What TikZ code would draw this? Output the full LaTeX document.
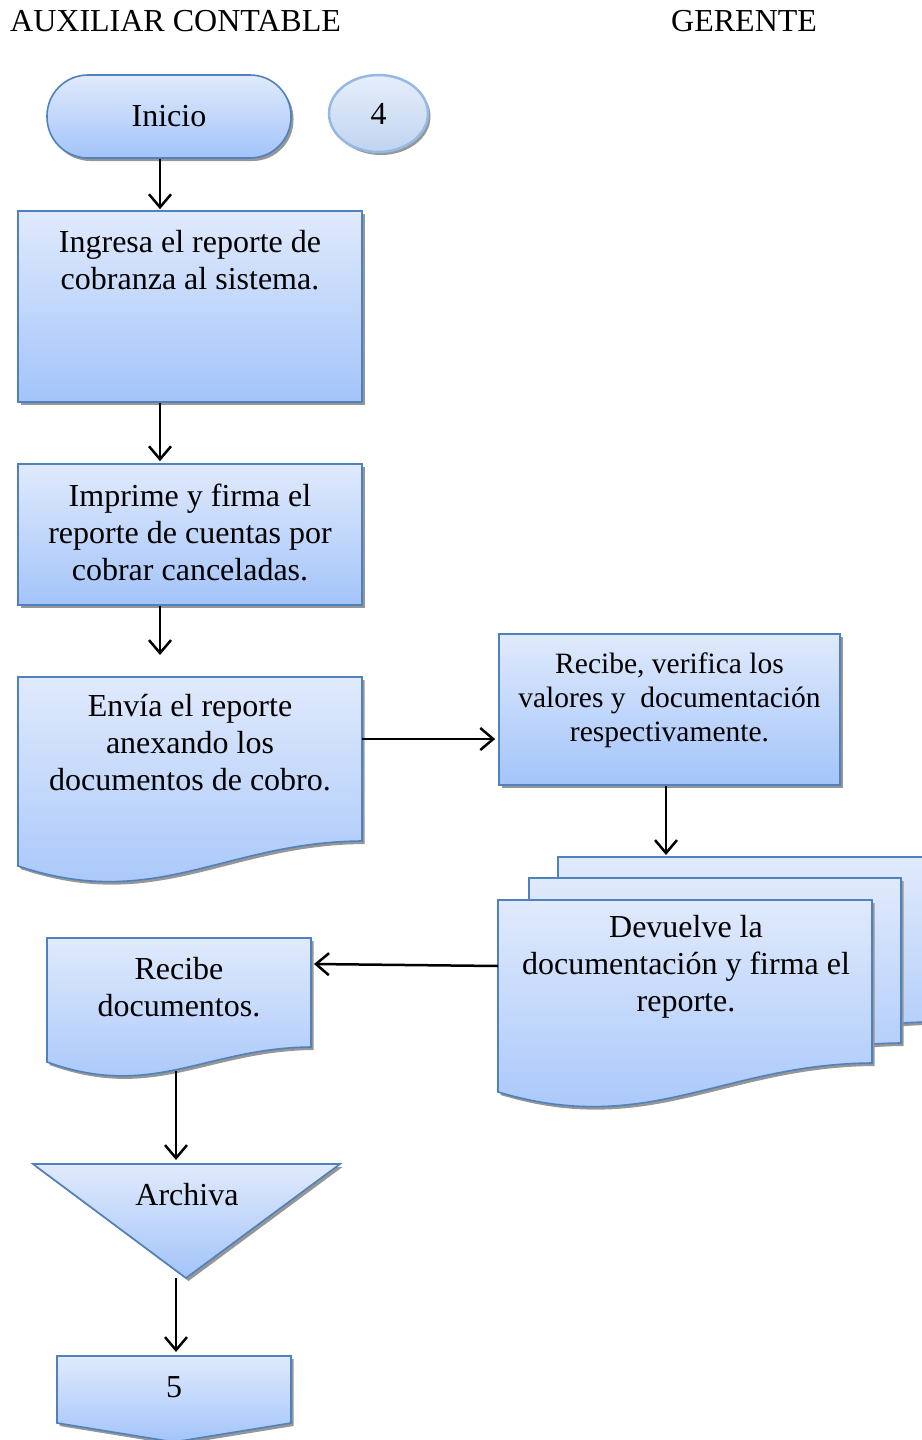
\documentclass[tikz,border=0pt]{standalone}
\usepackage{fontspec}
\setmainfont{Liberation Serif}
\usetikzlibrary{arrows.meta,shadows,shapes.geometric}
\definecolor{cTop}{RGB}{224,234,252}
\definecolor{cBot}{RGB}{163,196,250}
\definecolor{cBorder}{RGB}{79,129,189}
\definecolor{cShadow}{RGB}{150,150,150}
\definecolor{eTop}{RGB}{230,238,250}
\definecolor{eBot}{RGB}{192,212,240}
\definecolor{eBorder}{RGB}{150,185,228}
\tikzset{
  shad/.style={drop shadow={shadow xshift=2.5pt, shadow yshift=-3pt, fill=cShadow, opacity=1}},
  fillshade/.style={top color=cTop, bottom color=cBot, draw=cBorder, line width=1.6pt, line join=miter},
  procbox/.style={rectangle, fillshade, shad, inner sep=0},
  txt/.style={font=\fontsize{32}{37}\selectfont, align=center, inner sep=0},
  txts/.style={font=\fontsize{29.5}{34}\selectfont, align=center, inner sep=0},
  arr/.style={line width=2.5pt, -{Straight Barb[length=13pt,width=22pt]}},
}
\begin{document}
\begin{tikzpicture}[x=1pt,y=-1pt]
\useasboundingbox (0,0) rectangle (921,1440);

% headers
\node[txt, anchor=west] (h1) at (10,21) {AUXILIAR CONTABLE};
\node[txt, anchor=west] (h2) at (671,21) {GERENTE};

% Inicio terminal
\node[procbox, rounded corners=41pt, minimum width=244pt, minimum height=83pt, txt] (ini) at (169,116.5) {Inicio};

% connector 4
\node[ellipse, top color=eTop, bottom color=eBot, draw=eBorder, line width=2.5pt, shad,
      minimum width=99pt, minimum height=77pt, txt] (c4) at (378.5,113.5) {4};

% box 1
\node[procbox, minimum width=344pt, minimum height=191pt] (b1) at (190,306.5) {};
\node[txt] (b1t) at (190,260) {Ingresa el reporte de\\cobranza al sistema.};

% box 2
\node[procbox, minimum width=344pt, minimum height=141pt] (b2) at (190,534.5) {};
\node[txt] (b2t) at (190,532) {Imprime y firma el\\reporte de cuentas por\\cobrar canceladas.};

% document 3
\path[fillshade, shad] (18,677) -- (362,677) -- (362,841)
  .. controls (224,842) and (155.6,912) .. (18,866) -- cycle;
\node[txt] (d3t) at (190,743) {Envía el reporte\\anexando los\\documentos de cobro.};
\coordinate (d3top) at (160,677);
\coordinate (d3e) at (362,739);

% box 4 (gerente)
\node[procbox, minimum width=341pt, minimum height=151pt] (b4) at (669.5,709.5) {};
\node[txts] (b4t) at (669.5,700) {Recibe, verifica los\\valores y \ documentación\\respectivamente.};

% multidocument
\path[fillshade, shad] (558,857) -- (930,857) -- (930,1022)
  .. controls (781,1023) and (707,1096) .. (558,1051) -- cycle;
\path[fillshade, shad] (529,878) -- (901,878) -- (901,1043)
  .. controls (752,1044) and (678,1117) .. (529,1072) -- cycle;
\path[fillshade, shad] (498,900) -- (872,900) -- (872,1063)
  .. controls (722,1064) and (648,1137) .. (498,1092) -- cycle;
\node[txt] (mdt) at (686,967) {Devuelve la\\documentación y firma el\\reporte.};
\coordinate (mdtop) at (666,857);
\coordinate (mdw) at (498,966);

% document 5
\path[fillshade, shad] (47,938) -- (311,938) -- (311,1047)
  .. controls (205,1048) and (152.6,1100) .. (47,1062) -- cycle;
\node[txt] (d5t) at (179,987) {Recibe\\documentos.};
\coordinate (d5e) at (311,964);
\coordinate (d5b) at (176,1071);

% archive triangle
\path[fillshade, shad] (33,1164) -- (340,1164) -- (186,1278) -- cycle;
\node[txt] (arch) at (187,1195) {Archiva};
\coordinate (archtop) at (176,1164);
\coordinate (archbot) at (176,1278);

% off-page connector 5
\path[fillshade, shad] (57,1356) -- (291,1356) -- (291,1423) -- (174,1442) -- (57,1423) -- cycle;
\node[txt] (c5) at (174,1387) {5};
\coordinate (c5top) at (176,1356);

% connectors
\draw[arr] ([xshift=-9pt]ini.south) -- ([xshift=-30pt,yshift=1pt]b1.north);
\draw[arr] ([xshift=-30pt]b1.south) -- ([xshift=-30pt,yshift=2pt]b2.north);
\draw[arr] ([xshift=-30pt]b2.south) -- ([yshift=22pt]d3top);
\draw[arr] (d3e) -- ([xshift=-3pt]b4.west |- d3e);
\draw[arr] ([xshift=-3.5pt]b4.south) -- ([yshift=2pt]mdtop);
\draw[arr] (mdw) -- ([xshift=3pt]d5e);
\draw[arr] (d5b) -- ([yshift=4pt]archtop);
\draw[arr] (archbot) -- ([yshift=4pt]c5top);
\end{tikzpicture}
\end{document}
